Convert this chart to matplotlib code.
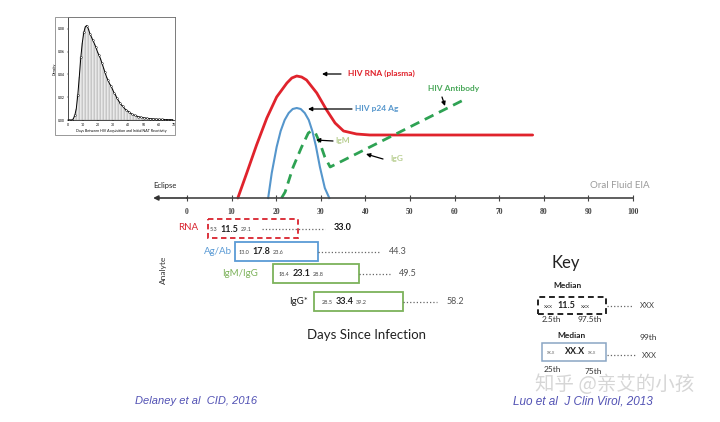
import numpy as np
import matplotlib.pyplot as plt
from matplotlib.patches import Rectangle
from matplotlib.lines import Line2D

# curves: days since infection vs relative level
rna_days = [11.4, 13.4, 15.6, 17.9, 20.1, 22.4, 23.5, 24.6, 25.7, 26.8, 29.1, 31.3, 33.2, 35.1, 38.0, 41.0, 77.5]
rna_level = [0, 25, 53, 80, 101, 115, 120, 122, 121, 118, 105, 88, 75, 67, 64, 63, 63]
p24_days = [18.2, 19.0, 20.1, 21.0, 21.9, 22.8, 23.7, 24.6, 25.5, 26.4, 27.3, 28.1, 28.9, 29.8, 30.9, 31.9]
p24_level = [0, 25, 51, 67, 78, 85, 89, 90, 89, 85, 78, 67, 52, 31, 10, 0]
ab_days = [21.2, 22.0, 23.8, 25.7, 27.2, 27.9, 28.8, 29.8, 30.9, 32.1, 62.0]
ab_level = [0, 6, 31, 51, 65, 67, 65, 55, 41, 31, 98]
day_ticks = list(range(0, 101, 10))

# analyte rows
analytes = ['RNA', 'Ag/Ab', 'IgM/IgG', 'IgG*']
box_lo = [4.7, 10.8, 19.3, 28.5]
box_hi = [24.9, 29.4, 38.6, 48.4]
pct_lo = ['5.3', '13.0', '18.4', '28.5']
medians = ['11.5', '17.8', '23.1', '33.4']
pct_hi = ['29.1', '23.6', '28.8', '39.2']
pct_99 = ['33.0', '44.3', '49.5', '58.2']
dot_start = [16.8, 29.4, 38.6, 48.4]
dot_end = [30.9, 43.3, 45.5, 56.1]

# inset histogram (days 0..69)
hist_vals = [0, 0, 0, 0.001, 0.004, 0.010, 0.022, 0.038, 0.055, 0.068,
             0.077, 0.082, 0.083, 0.080, 0.076, 0.073, 0.070, 0.067, 0.064, 0.060,
             0.057, 0.054, 0.050, 0.046, 0.042, 0.038, 0.035, 0.032, 0.030, 0.027,
             0.024, 0.022, 0.019, 0.017, 0.015, 0.013, 0.012, 0.010, 0.009, 0.008,
             0.007, 0.006, 0.005, 0.0045, 0.004, 0.0035, 0.003, 0.0027, 0.0024, 0.0021,
             0.0019, 0.0017, 0.0015, 0.0013, 0.0012, 0.0011, 0.0010, 0.0009, 0.0008, 0.0007,
             0.0006, 0.0006, 0.0005, 0.0005, 0.0004, 0.0004, 0.0003, 0.0003, 0.0003, 0.0002]

plt.rcParams['font.family'] = ['Lato', 'DejaVu Sans']

W, H = 720, 422
fig = plt.figure(figsize=(7.2, 4.22), dpi=100, facecolor='white')

def fx(px):
    return px / W

def fy(py):
    return 1 - py / H

DAY0, PXD = 187, 4.46
xl = (-DAY0 / PXD, (W - DAY0) / PXD)

def pd(px):
    return (px - DAY0) / PXD

red, blue, green = '#e0232c', '#5596cc', '#2ea253'

# lower overlay axes: x in days, y in pixels
ax = fig.add_axes([0, 0, 1, 1], facecolor='none')
ax.set_xlim(*xl)
ax.set_ylim(H, 0)
ax.axis('off')

# curve axes
axc = fig.add_axes([0, fy(198), 1, 198 / H], facecolor='none')
axc.set_xlim(*xl)
axc.set_ylim(0, 198)
for s in ['top', 'left', 'right']:
    axc.spines[s].set_visible(False)
axc.spines['bottom'].set_bounds(0, 100)
axc.spines['bottom'].set_color('#444')
axc.spines['bottom'].set_linewidth(1.2)
axc.set_yticks([])
axc.set_xticks(day_ticks)
axc.tick_params(axis='x', direction='inout', length=4, width=0.8, color='#444', pad=5)
for t in axc.get_xticklabels():
    t.set_fontfamily('Liberation Serif')
    t.set_fontweight('bold')
    t.set_fontsize(5.5)
    t.set_color('#444')

axc.plot(rna_days, rna_level, color=red, lw=2, clip_on=False, solid_capstyle='round')
axc.plot(p24_days, p24_level, color=blue, lw=1.5, clip_on=False)
axc.plot(ab_days, ab_level, color=green, lw=2, ls=(0, (3.5, 2.2)), clip_on=False)

arr = dict(arrowstyle='-|>', color='black', lw=0.9, mutation_scale=6, shrinkA=0, shrinkB=0)
axc.annotate('', xy=(-7.6, 0), xytext=(0, 0), annotation_clip=False,
             arrowprops=dict(arrowstyle='-|>', color='#333', lw=1.2, mutation_scale=7, shrinkA=0, shrinkB=0))
axc.annotate('', xy=(pd(322), 124), xytext=(pd(341), 124), arrowprops=arr)
axc.text(pd(348), 125, 'HIV RNA (plasma)', color=red, fontsize=6, fontweight='bold', va='center')
axc.annotate('', xy=(pd(308), 89), xytext=(pd(352), 89), arrowprops=arr)
axc.text(pd(355), 89, 'HIV p24 Ag', color=blue, fontsize=6, fontweight='bold', va='center')
axc.text(pd(428), 109, 'HIV Antibody', color='#4aa85a', fontsize=6, fontweight='bold', va='center')
axc.annotate('', xy=(pd(445), 92), xytext=(pd(442), 101), arrowprops=arr)
axc.annotate('', xy=(pd(316), 58), xytext=(pd(333), 57), arrowprops=arr)
axc.text(pd(335), 57, 'IgM', color='#b9cf92', fontsize=6, fontweight='bold', va='center')
axc.annotate('', xy=(pd(366), 44), xytext=(pd(383), 39), arrowprops=arr)
axc.text(pd(390), 40, 'IgG', color='#b9cf92', fontsize=6, fontweight='bold', va='center')
axc.text(pd(153), 13, 'Eclipse', color='#222', fontsize=5.5, va='center')
axc.text(pd(590), 13, 'Oral Fluid EIA', color='#9a9a9a', fontsize=7, va='center')

# analyte rows
row_y = [228, 251, 273, 301]
label_right = [pd(198), pd(232), pd(258), pd(308)]
med_off = [21, 26, 28, 30]
label_col = ['#d9232e', '#5b9bd5', '#7cb25a', '#222222']
box_col = ['#d9232e', '#5b9bd5', '#7cb25a', '#7cb25a']
for i, name in enumerate(analytes):
    y = row_y[i]
    ax.text(label_right[i], y, name, color=label_col[i], fontsize=7, ha='right', va='center')
    ls = (0, (3, 2)) if i == 0 else '-'
    ax.add_patch(Rectangle((box_lo[i], y - 9.5), box_hi[i] - box_lo[i], 19, fill=False,
                           ec=box_col[i], lw=1.3, ls=ls))
    ax.plot([dot_start[i], dot_end[i]], [y + 1, y + 1], ls=':', color='#666', lw=0.9)
    mx = box_lo[i] + med_off[i] / PXD
    ax.text(mx, y + 1, medians[i], fontsize=6.5, fontweight='bold', ha='center', va='center', color='#222')
    ax.text(mx - 2.6, y + 1.5, pct_lo[i], fontsize=4, ha='right', va='center', color='#444')
    ax.text(mx + 2.6, y + 1.5, pct_hi[i], fontsize=4, ha='left', va='center', color='#444')
    ax.text(dot_end[i] + 2.0, y, pct_99[i], fontsize=6.5, ha='left', va='center',
            color='#111' if i == 0 else '#555', fontweight='bold' if i == 0 else 'normal')

ax.text(pd(163), 270, 'Analyte', rotation=90, fontsize=6, ha='center', va='center', color='#333')
ax.text(pd(367), 335, 'Days Since Infection', fontsize=9.5, ha='center', va='center', color='#222')

# key
fig.text(fx(566), fy(263), 'Key', fontsize=12, ha='center', va='center', color='#222')
fig.text(fx(567), fy(285), 'Median', fontsize=6, fontweight='bold', ha='center', va='center', color='#222')
fig.add_artist(Rectangle((fx(538), fy(314)), 68 / W, 17 / H, transform=fig.transFigure,
                         fill=False, ec='#222', lw=1.4, ls=(0, (3, 2))))
fig.text(fx(548), fy(306), 'xxx', fontsize=4.3, ha='center', va='center', color='#444')
fig.text(fx(566), fy(306), '11.5', fontsize=6.5, fontweight='bold', ha='center', va='center', color='#222')
fig.text(fx(585), fy(306), 'xxx', fontsize=4.3, ha='center', va='center', color='#444')
fig.add_artist(Line2D([fx(607), fx(633)], [fy(306), fy(306)], transform=fig.transFigure,
                      ls=':', color='#666', lw=0.9))
fig.text(fx(647), fy(306), 'XXX', fontsize=5.5, ha='center', va='center', color='#444')
fig.text(fx(551), fy(320), '2.5th', fontsize=6, ha='center', va='center', color='#333')
fig.text(fx(590), fy(320), '97.5th', fontsize=6, ha='center', va='center', color='#333')
fig.text(fx(571), fy(336), 'Median', fontsize=6, fontweight='bold', ha='center', va='center', color='#222')
fig.text(fx(648), fy(337), '99th', fontsize=6, ha='center', va='center', color='#333')
fig.add_artist(Rectangle((fx(542), fy(361)), 64 / W, 18 / H, transform=fig.transFigure,
                         fill=False, ec='#8aa6c4', lw=1.1))
fig.text(fx(551), fy(352), 'xx.x', fontsize=3.5, ha='center', va='center', color='#777')
fig.text(fx(575), fy(352), 'XX.X', fontsize=6.5, fontweight='bold', ha='center', va='center', color='#222')
fig.text(fx(592), fy(352), 'xx.x', fontsize=3.5, ha='center', va='center', color='#777')
fig.add_artist(Line2D([fx(607), fx(635)], [fy(355), fy(355)], transform=fig.transFigure,
                      ls=':', color='#666', lw=0.9))
fig.text(fx(649), fy(356), 'XXX', fontsize=5.5, ha='center', va='center', color='#444')
fig.text(fx(552), fy(370), '25th', fontsize=6, ha='center', va='center', color='#333')
fig.text(fx(593), fy(371), '75th', fontsize=6, ha='center', va='center', color='#333')

# footer
fig.text(fx(135), fy(401), 'Delaney et al  CID, 2016', fontsize=8, style='italic',
         family='Liberation Sans', color='#5252b4', va='center')
fig.text(fx(513), fy(402), 'Luo et al  J Clin Virol, 2013', fontsize=8.5, style='italic',
         family='Liberation Sans', color='#5252b4', va='center')
fig.text(fx(615), fy(385), '知乎 @亲艾的小孩', fontsize=14, ha='center', va='center',
         family=['Noto Sans CJK SC', 'DejaVu Sans'], fontweight='light', color='#d2d2d2', alpha=0.9)

# inset histogram
fig.add_artist(Rectangle((fx(55), fy(135)), 120 / W, 118 / H, transform=fig.transFigure,
                         fill=False, ec='#888', lw=0.6))
axi = fig.add_axes([fx(68), fy(120), (175 - 68) / W, (120 - 17) / H])
centers = np.arange(len(hist_vals)) + 0.5
axi.bar(centers, hist_vals, width=1, facecolor='white', edgecolor='#999', lw=0.3)
axi.plot(centers, hist_vals, color='black', lw=0.7, marker='o', ms=1.2, mfc='white', mew=0.3, markevery=2)
axi.set_xlim(0, 71)
axi.set_ylim(0, 0.0905)
axi.set_xticks(range(0, 71, 10))
axi.set_yticks([0, 0.02, 0.04, 0.06, 0.08])
axi.set_yticklabels(['0.00', '0.02', '0.04', '0.06', '0.08'])
axi.tick_params(labelsize=2.5, length=1, width=0.3, pad=1)
for s in axi.spines.values():
    s.set_linewidth(0.5)
axi.set_xlabel('Days Between HIV Acquisition and Initial NAT Reactivity', fontsize=2.6, labelpad=1.5)
axi.set_ylabel('Density', fontsize=2.6, labelpad=1.5)

fig.savefig('out.png', dpi=100, facecolor='white')
